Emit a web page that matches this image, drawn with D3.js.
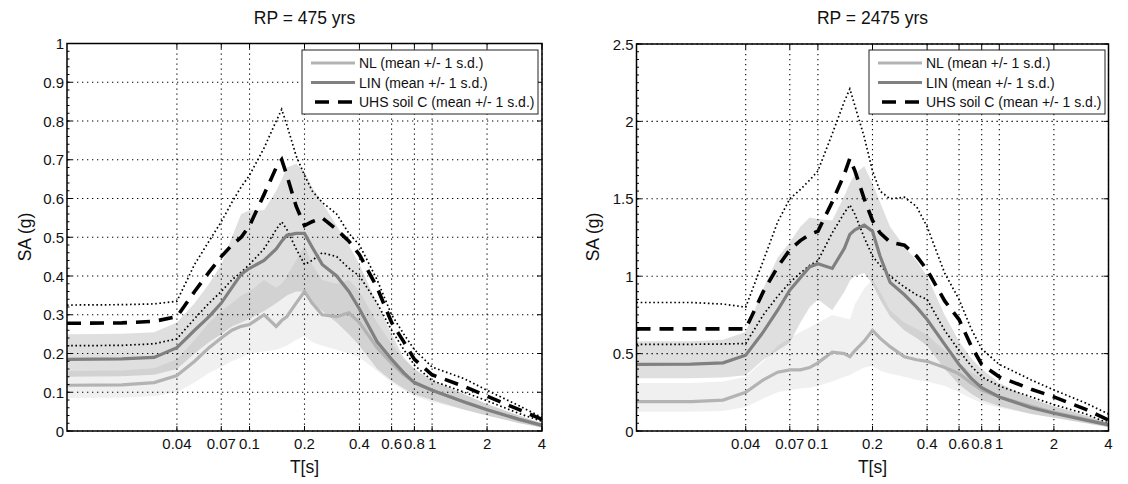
<!DOCTYPE html>
<html><head><meta charset="utf-8">
<script src="https://cdn.jsdelivr.net/npm/d3@7"></script>
<style>body{margin:0;background:#fff} svg{display:block} text{font-family:"Liberation Sans",Arial,Helvetica,sans-serif;fill:#111}</style>
</head><body><svg id="c" width="1128" height="484"></svg>
<script>
// ---------------- DATA ----------------
const periods = [0.01,0.02,0.03,0.04,0.05,0.06,0.07,0.08,0.09,0.1,0.12,0.14,0.15,0.16,0.18,0.2,0.22,0.25,0.3,0.35,0.4,0.5,0.6,0.7,0.8,1,1.5,2,3,4];
const xTickValues = [0.04,0.07,0.1,0.2,0.4,0.6,0.8,1,2,4];
const xTickLabels = ["0.04","0.07","0.1","0.2","0.4","0.6","0.8","1","2","4"];
const titles = ["RP = 475 yrs","RP = 2475 yrs"];
const legendLabels = ["NL (mean +/- 1 s.d.)","LIN (mean +/- 1 s.d.)","UHS soil C (mean +/- 1 s.d.)"];
const yTicks475 = [0,0.1,0.2,0.3,0.4,0.5,0.6,0.7,0.8,0.9,1];
const yTickLabels475 = ["0","0.1","0.2","0.3","0.4","0.5","0.6","0.7","0.8","0.9","1"];
const yTicks2475 = [0,0.5,1,1.5,2,2.5];
const yTickLabels2475 = ["0","0.5","1","1.5","2","2.5"];

// RP = 475 yrs
const uhs475   = [0.278,0.279,0.283,0.295,0.36,0.41,0.45,0.48,0.50,0.53,0.61,0.68,0.70,0.66,0.58,0.53,0.54,0.55,0.52,0.49,0.455,0.37,0.28,0.23,0.185,0.145,0.115,0.09,0.055,0.03];
const uhsHi475 = [0.325,0.326,0.328,0.335,0.43,0.49,0.54,0.59,0.63,0.66,0.73,0.80,0.83,0.79,0.71,0.66,0.62,0.59,0.56,0.51,0.48,0.39,0.30,0.25,0.21,0.165,0.135,0.105,0.065,0.035];
const uhsLo475 = [0.22,0.221,0.225,0.238,0.29,0.33,0.36,0.39,0.41,0.43,0.47,0.52,0.54,0.52,0.47,0.43,0.44,0.46,0.45,0.42,0.40,0.33,0.26,0.21,0.17,0.13,0.10,0.078,0.045,0.025];
const lin475   = [0.185,0.186,0.19,0.215,0.26,0.295,0.33,0.37,0.405,0.42,0.44,0.47,0.49,0.505,0.51,0.51,0.475,0.43,0.40,0.36,0.315,0.23,0.185,0.15,0.125,0.105,0.075,0.055,0.03,0.015];
const linLo475 = [0.14,0.141,0.145,0.16,0.2,0.23,0.25,0.27,0.28,0.29,0.31,0.33,0.34,0.35,0.36,0.36,0.33,0.31,0.28,0.25,0.22,0.16,0.13,0.11,0.095,0.08,0.055,0.04,0.02,0.01];
const linHi475 = [0.25,0.251,0.255,0.28,0.33,0.38,0.43,0.50,0.56,0.57,0.57,0.62,0.65,0.68,0.69,0.67,0.63,0.59,0.53,0.48,0.43,0.33,0.25,0.19,0.16,0.13,0.095,0.07,0.04,0.02];
const nl475    = [0.118,0.119,0.125,0.143,0.18,0.215,0.24,0.26,0.27,0.275,0.30,0.27,0.285,0.295,0.33,0.36,0.33,0.30,0.295,0.305,0.28,0.215,0.175,0.145,0.125,0.105,0.075,0.055,0.03,0.013];
const nlLo475  = [0.085,0.086,0.09,0.1,0.125,0.15,0.165,0.18,0.19,0.2,0.205,0.21,0.215,0.22,0.235,0.245,0.23,0.22,0.21,0.2,0.19,0.155,0.125,0.105,0.09,0.075,0.055,0.04,0.02,0.008];
const nlHi475  = [0.155,0.156,0.162,0.185,0.235,0.28,0.31,0.33,0.35,0.36,0.39,0.37,0.38,0.40,0.44,0.48,0.43,0.39,0.38,0.39,0.36,0.28,0.225,0.185,0.16,0.135,0.095,0.07,0.04,0.018];

// RP = 2475 yrs
const uhs2475   = [0.66,0.66,0.66,0.66,0.9,1.06,1.17,1.23,1.27,1.29,1.48,1.66,1.76,1.68,1.50,1.36,1.28,1.22,1.20,1.13,1.04,0.84,0.72,0.55,0.43,0.35,0.27,0.22,0.14,0.07];
const uhsHi2475 = [0.83,0.83,0.82,0.80,1.1,1.35,1.5,1.56,1.62,1.68,1.92,2.13,2.21,2.1,1.9,1.68,1.55,1.50,1.51,1.45,1.32,1.02,0.85,0.66,0.53,0.43,0.33,0.265,0.18,0.11];
const uhsLo2475 = [0.56,0.56,0.562,0.565,0.75,0.87,0.96,1.02,1.07,1.10,1.28,1.41,1.46,1.40,1.25,1.13,1.07,1.0,0.93,0.88,0.85,0.65,0.52,0.42,0.35,0.29,0.22,0.17,0.11,0.05];
const lin2475   = [0.43,0.432,0.44,0.49,0.64,0.78,0.91,0.99,1.06,1.08,1.05,1.18,1.27,1.30,1.33,1.29,1.13,0.96,0.88,0.80,0.72,0.56,0.43,0.34,0.28,0.22,0.15,0.115,0.07,0.04];
const linLo2475 = [0.34,0.341,0.345,0.36,0.46,0.52,0.57,0.7,0.8,0.85,0.78,0.9,0.97,1.0,1.02,0.95,0.85,0.74,0.65,0.6,0.55,0.4,0.3,0.24,0.2,0.16,0.11,0.085,0.05,0.025];
const linHi2475 = [0.58,0.58,0.59,0.64,0.92,1.12,1.22,1.32,1.38,1.37,1.36,1.52,1.60,1.66,1.71,1.60,1.48,1.32,1.19,1.10,1.0,0.75,0.58,0.47,0.40,0.31,0.21,0.16,0.10,0.055];
const nl2475    = [0.19,0.19,0.2,0.25,0.33,0.38,0.395,0.395,0.41,0.44,0.51,0.50,0.48,0.52,0.58,0.65,0.60,0.545,0.48,0.46,0.45,0.41,0.37,0.31,0.265,0.22,0.16,0.12,0.075,0.04];
const nlLo2475  = [0.125,0.125,0.13,0.155,0.21,0.25,0.265,0.275,0.28,0.29,0.32,0.35,0.36,0.38,0.41,0.42,0.39,0.37,0.35,0.33,0.32,0.29,0.25,0.21,0.18,0.15,0.11,0.085,0.05,0.025];
const nlHi2475  = [0.31,0.31,0.32,0.35,0.45,0.55,0.6,0.64,0.67,0.7,0.75,0.73,0.72,0.82,0.92,0.98,0.9,0.78,0.70,0.66,0.62,0.52,0.44,0.38,0.34,0.29,0.21,0.16,0.10,0.055];

// ---------------- DRAW ----------------
const svg = d3.select("#c");

function panel(o) {
  const g = svg.append("g");
  const x = d3.scaleLog().domain([0.01, 4]).range([o.x0, o.x1]);
  const y = d3.scaleLinear().domain([0, o.ymax]).range([o.y1, o.y0]);
  const cid = "clip" + o.id;
  svg.append("clipPath").attr("id", cid).append("rect")
    .attr("x", o.x0).attr("y", o.y0).attr("width", o.x1 - o.x0).attr("height", o.y1 - o.y0);

  // grid
  const grid = g.append("g").attr("stroke", "#000").attr("stroke-width", 1.1).attr("stroke-dasharray", "1.3,3.7");
  xTickValues.forEach(t => grid.append("line").attr("x1", x(t)).attr("x2", x(t)).attr("y1", o.y0).attr("y2", o.y1));
  o.yTicks.forEach(t => grid.append("line").attr("y1", y(t)).attr("y2", y(t)).attr("x1", o.x0).attr("x2", o.x1));

  const pl = g.append("g").attr("clip-path", `url(#${cid})`);
  const band = (lo, hi) => d3.area().x((d, i) => x(periods[i])).y0((d, i) => y(lo[i])).y1((d, i) => y(hi[i]))(periods);
  const line = arr => d3.line().x((d, i) => x(periods[i])).y((d, i) => y(arr[i]))(periods);

  pl.append("path").attr("d", band(o.nlLo, o.nlHi)).attr("fill", "#000").attr("fill-opacity", 0.06);
  pl.append("path").attr("d", band(o.linLo, o.linHi)).attr("fill", "#000").attr("fill-opacity", 0.125);

  pl.append("path").attr("d", line(o.uhsHi)).attr("fill", "none").attr("stroke", "#000").attr("stroke-width", 1.7).attr("stroke-dasharray", "1.6,2.6");
  pl.append("path").attr("d", line(o.uhsLo)).attr("fill", "none").attr("stroke", "#000").attr("stroke-width", 1.7).attr("stroke-dasharray", "1.6,2.6");
  pl.append("path").attr("d", line(o.nl)).attr("fill", "none").attr("stroke", "#b3b3b3").attr("stroke-width", 3.2);
  pl.append("path").attr("d", line(o.lin)).attr("fill", "none").attr("stroke", "#808080").attr("stroke-width", 3.2);
  pl.append("path").attr("d", line(o.uhs)).attr("fill", "none").attr("stroke", "#000").attr("stroke-width", 3.6).attr("stroke-dasharray", "14,9");

  // box
  g.append("rect").attr("x", o.x0).attr("y", o.y0).attr("width", o.x1 - o.x0).attr("height", o.y1 - o.y0)
    .attr("fill", "none").attr("stroke", "#000").attr("stroke-width", 1.5);

  // ticks
  const tk = g.append("g").attr("stroke", "#000").attr("stroke-width", 1);
  xTickValues.forEach(t => {
    tk.append("line").attr("x1", x(t)).attr("x2", x(t)).attr("y1", o.y1).attr("y2", o.y1 - 5);
    tk.append("line").attr("x1", x(t)).attr("x2", x(t)).attr("y1", o.y0).attr("y2", o.y0 + 5);
  });
  o.yTicks.forEach(t => {
    tk.append("line").attr("x1", o.x0).attr("x2", o.x0 + 5).attr("y1", y(t)).attr("y2", y(t));
    tk.append("line").attr("x1", o.x1).attr("x2", o.x1 - 5).attr("y1", y(t)).attr("y2", y(t));
  });
  d3.range(0, o.ymax + 1e-9, o.minor).forEach(t => {
    tk.append("line").attr("x1", o.x0).attr("x2", o.x0 + 2.5).attr("y1", y(t)).attr("y2", y(t));
  });

  // tick labels
  xTickValues.forEach((t, i) => g.append("text").attr("x", x(t)).attr("y", o.y1 + 18)
    .attr("text-anchor", "middle").attr("font-size", 15).text(xTickLabels[i]));
  o.yTicks.forEach((t, i) => g.append("text").attr("x", o.x0 - 3).attr("y", y(t) + 5.5)
    .attr("text-anchor", "end").attr("font-size", 15).text(o.yTickLabels[i]));

  // titles and axis labels
  const cx = (o.x0 + o.x1) / 2;
  g.append("text").attr("x", cx).attr("y", 24).attr("text-anchor", "middle").attr("font-size", 17.5).text(o.title);
  g.append("text").attr("x", cx).attr("y", 473).attr("text-anchor", "middle").attr("font-size", 17.5).text("T[s]");
  g.append("text").attr("transform", `translate(${o.ylabX},237) rotate(-90)`).attr("text-anchor", "middle")
    .attr("font-size", 17.5).text("SA (g)");

  // legend
  const lg = g.append("g");
  lg.append("rect").attr("x", o.lx).attr("y", 50).attr("width", o.lw).attr("height", 64)
    .attr("fill", "#fff").attr("stroke", "#222").attr("stroke-width", 1);
  const styles = [
    {c: "#b3b3b3", w: 3.2, d: null},
    {c: "#808080", w: 3.2, d: null},
    {c: "#000", w: 3.6, d: "14,9"}
  ];
  legendLabels.forEach((lab, i) => {
    const yy = 63 + i * 19.5;
    const ln = lg.append("line").attr("x1", o.lx + 9).attr("x2", o.lx + 53).attr("y1", yy).attr("y2", yy)
      .attr("stroke", styles[i].c).attr("stroke-width", styles[i].w);
    if (styles[i].d) ln.attr("stroke-dasharray", styles[i].d).attr("stroke-dashoffset", -4);
    lg.append("text").attr("x", o.lx + 57).attr("y", yy + 5).attr("font-size", 14).text(lab);
  });
}

panel({id: 1, x0: 67, x1: 542, y0: 43.5, y1: 431, ymax: 1, yTicks: yTicks475, yTickLabels: yTickLabels475, minor: 0.02,
  title: titles[0], ylabX: 31, lx: 302, lw: 236,
  uhs: uhs475, uhsHi: uhsHi475, uhsLo: uhsLo475, lin: lin475, linLo: linLo475, linHi: linHi475, nl: nl475, nlLo: nlLo475, nlHi: nlHi475});
panel({id: 2, x0: 636.5, x1: 1108.5, y0: 44, y1: 431, ymax: 2.5, yTicks: yTicks2475, yTickLabels: yTickLabels2475, minor: 0.05,
  title: titles[1], ylabX: 599, lx: 869, lw: 236,
  uhs: uhs2475, uhsHi: uhsHi2475, uhsLo: uhsLo2475, lin: lin2475, linLo: linLo2475, linHi: linHi2475, nl: nl2475, nlLo: nlLo2475, nlHi: nlHi2475});
</script>
</body></html>
